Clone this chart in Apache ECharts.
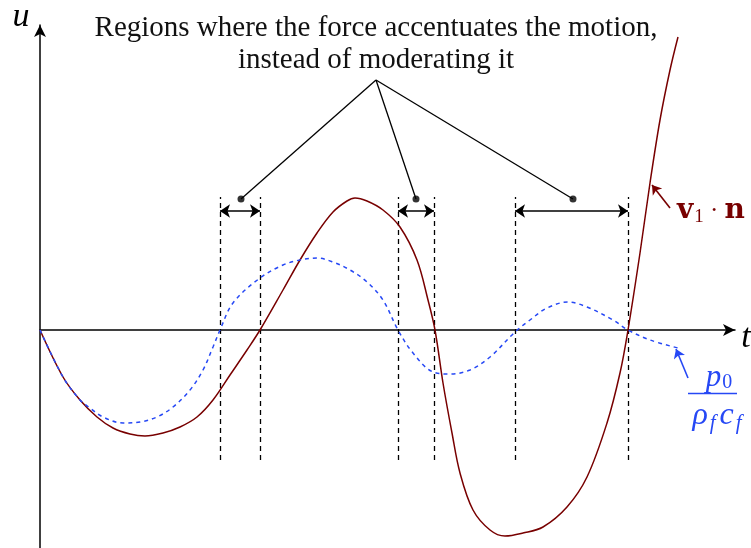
<!DOCTYPE html>
<html>
<head>
<meta charset="utf-8">
<script src="https://cdn.jsdelivr.net/npm/echarts@6/dist/echarts.min.js"></script>
<style>
  html, body { margin: 0; padding: 0; background: #fff; }
  #chart { width: 751px; height: 548px; }
</style>
</head>
<body>
<div id="chart"></div>
<script>
// Normal velocity of the surface, v1·n, sampled over time (t, u)
const velocityCurve = [
  [0, 0], [0.23, -0.47], [0.40, -0.70], [0.57, -0.87], [0.73, -0.98], [0.90, -1.04],
  [1.05, -1.06], [1.23, -1.03], [1.40, -0.97], [1.57, -0.87], [1.73, -0.70], [1.90, -0.45],
  [2.07, -0.20], [2.20, 0], [2.43, 0.40], [2.60, 0.70], [2.77, 0.97], [2.93, 1.18],
  [3.07, 1.29], [3.15, 1.32], [3.27, 1.29], [3.43, 1.20], [3.60, 1.03], [3.77, 0.70],
  [3.88, 0.30], [3.95, 0], [4.03, -0.53], [4.12, -1.03], [4.20, -1.43], [4.33, -1.80],
  [4.50, -2.00], [4.65, -2.06], [4.83, -2.03], [5.03, -1.97], [5.27, -1.77], [5.47, -1.47],
  [5.67, -0.93], [5.80, -0.43], [5.88, 0], [6.00, 0.77], [6.10, 1.47], [6.20, 2.10],
  [6.30, 2.60], [6.38, 2.93]
];

// Incident pressure scaled by the fluid impedance, p0 / (rho_f c_f)
const pressureCurve = [
  [0, 0], [0.23, -0.47], [0.40, -0.70], [0.50, -0.78], [0.63, -0.87], [0.83, -0.93],
  [1.00, -0.92], [1.17, -0.87], [1.33, -0.77], [1.50, -0.60], [1.63, -0.40], [1.73, -0.17],
  [1.80, 0], [1.93, 0.27], [2.20, 0.52], [2.43, 0.65], [2.60, 0.70], [2.77, 0.72],
  [2.93, 0.68], [3.10, 0.60], [3.27, 0.48], [3.43, 0.30], [3.58, 0], [3.73, -0.23],
  [3.93, -0.42], [4.10, -0.44], [4.30, -0.40], [4.50, -0.27], [4.75, -0.02], [4.90, 0.10],
  [5.07, 0.22], [5.28, 0.28], [5.47, 0.23], [5.73, 0.10], [5.88, 0], [6.10, -0.10],
  [6.38, -0.18]
];

// Boundaries of the regions where force and motion share the same sign
const regionBounds = [1.80, 2.20, 3.58, 3.94, 4.75, 5.88];
const boundTop = 1.33;
const boundBottom = -1.30;
const spanLevel = 1.19;

// Callout: one apex point and a dot above each region
const calloutApex = [3.36, 2.50];
const calloutDots = [[2.01, 1.31], [3.76, 1.31], [5.33, 1.31]];

// Pointers from the curve labels to their curves
const velocityPointer = [[6.30, 1.22], [6.12, 1.45]];
const pressurePointer = [[6.48, -0.48], [6.36, -0.19]];
const fractionBar = [[6.48, -0.63], [7.10, -0.63]];

const titleLines = ['Regions where the force accentuates the motion,', 'instead of moderating it'];

const RED = '#780000';
const BLUE = '#2648f5';
const SERIF = '"Liberation Serif"';

const chart = echarts.init(document.getElementById('chart'));

const boundLines = regionBounds.map(t => ({ coords: [[t, boundBottom], [t, boundTop]] }));
const spans = [];
for (let i = 0; i < regionBounds.length; i += 2) {
  spans.push({ coords: [[regionBounds[i], spanLevel], [regionBounds[i + 1], spanLevel]] });
}
const connectors = calloutDots.map(d => ({ coords: [calloutApex, d] }));

chart.setOption({
  animation: false,
  grid: { left: 40, top: 25, width: 695, height: 523, containLabel: false },
  xAxis: {
    type: 'value', min: 0, max: 6.95,
    axisLine: { onZero: true, symbol: ['none', 'arrow'], symbolSize: [9, 12],
      lineStyle: { color: '#000', width: 1.5 } },
    axisTick: { show: false }, axisLabel: { show: false }, splitLine: { show: false }
  },
  yAxis: {
    type: 'value', min: -2.18, max: 3.05,
    axisLine: { onZero: true, symbol: ['none', 'arrow'], symbolSize: [9, 12],
      lineStyle: { color: '#000', width: 1.5 } },
    axisTick: { show: false }, axisLabel: { show: false }, splitLine: { show: false }
  },
  series: [
    {
      type: 'lines', coordinateSystem: 'cartesian2d', silent: true, z: 2,
      lineStyle: { color: '#000', width: 1.3, type: [5, 4], opacity: 1 },
      symbol: ['none', 'none'],
      data: boundLines
    },
    {
      type: 'line', data: velocityCurve, smooth: 0.35, showSymbol: false, z: 3,
      lineStyle: { color: RED, width: 1.5 }
    },
    {
      type: 'line', data: pressureCurve, smooth: 0.35, showSymbol: false, z: 4,
      lineStyle: { color: BLUE, width: 1.5, type: [4, 4] }
    },
    {
      type: 'lines', coordinateSystem: 'cartesian2d', silent: true, z: 5,
      lineStyle: { color: '#000', width: 1.5, opacity: 1 },
      symbol: ['arrow', 'arrow'], symbolSize: 10,
      data: spans
    },
    {
      type: 'lines', coordinateSystem: 'cartesian2d', silent: true, z: 5,
      lineStyle: { color: '#000', width: 1.3, opacity: 1 },
      symbol: ['none', 'none'],
      data: connectors
    },
    {
      type: 'scatter', data: calloutDots, symbol: 'circle', symbolSize: 7, z: 6,
      itemStyle: { color: '#000' }, silent: true
    },
    {
      type: 'lines', coordinateSystem: 'cartesian2d', silent: true, z: 5,
      lineStyle: { color: RED, width: 1.6, opacity: 1 },
      symbol: ['none', 'arrow'], symbolSize: 9,
      data: [{ coords: velocityPointer }]
    },
    {
      type: 'lines', coordinateSystem: 'cartesian2d', silent: true, z: 5,
      lineStyle: { color: BLUE, width: 1.6, opacity: 1 },
      symbol: ['none', 'arrow'], symbolSize: 9,
      data: [{ coords: pressurePointer }]
    },
    {
      type: 'lines', coordinateSystem: 'cartesian2d', silent: true, z: 5,
      lineStyle: { color: BLUE, width: 1.3, opacity: 1 },
      symbol: ['none', 'none'],
      data: [{ coords: fractionBar }]
    }
  ],
  graphic: [
    { type: 'text', x: 21, y: 17, style: { text: 'u', align: 'center', verticalAlign: 'middle', font: 'italic 34px ' + SERIF, fill: '#000' } },
    { type: 'text', x: 746, y: 338, style: { text: 't', align: 'center', verticalAlign: 'middle', font: 'italic 34px ' + SERIF, fill: '#000' } },
    { type: 'text', x: 376, y: 28, style: { text: titleLines[0], align: 'center', verticalAlign: 'middle', font: '29px ' + SERIF, fill: '#111' } },
    { type: 'text', x: 376, y: 60, style: { text: titleLines[1], align: 'center', verticalAlign: 'middle', font: '29px ' + SERIF, fill: '#111' } },
    {
      type: 'text', x: 677, y: 211,
      style: {
        text: '{b|v}{s|1}{d| · }{b|n}',
        verticalAlign: 'middle',
        rich: {
          b: { fontWeight: 'bold', fontSize: 28, fontFamily: 'DejaVu Serif', fill: RED },
          s: { fontSize: 19, fontFamily: 'Liberation Serif', fill: RED, padding: [12, 0, 0, 1] },
          d: { fontSize: 25, fontFamily: 'Liberation Serif', fill: RED }
        }
      }
    },
    {
      type: 'text', x: 719, y: 378,
      style: {
        text: '{m|p}{s|0}',
        align: 'center', verticalAlign: 'middle',
        rich: {
          m: { fontSize: 31, fontFamily: 'Liberation Serif', fontStyle: 'italic', fill: BLUE },
          s: { fontSize: 20, fontFamily: 'Liberation Serif', fill: BLUE, padding: [10, 0, 0, 1] }
        }
      }
    },
    {
      type: 'text', x: 719, y: 416,
      style: {
        text: '{m|ρ}{s|f}{m|c}{s|f}',
        align: 'center', verticalAlign: 'middle',
        rich: {
          m: { fontSize: 32, fontFamily: 'Liberation Serif', fontStyle: 'italic', fill: BLUE, padding: [0, 2, 0, 0] },
          s: { fontSize: 21, fontFamily: 'Liberation Serif', fontStyle: 'italic', fill: BLUE, padding: [14, 4, 0, 0] }
        }
      }
    }
  ]
});
</script>
</body>
</html>
